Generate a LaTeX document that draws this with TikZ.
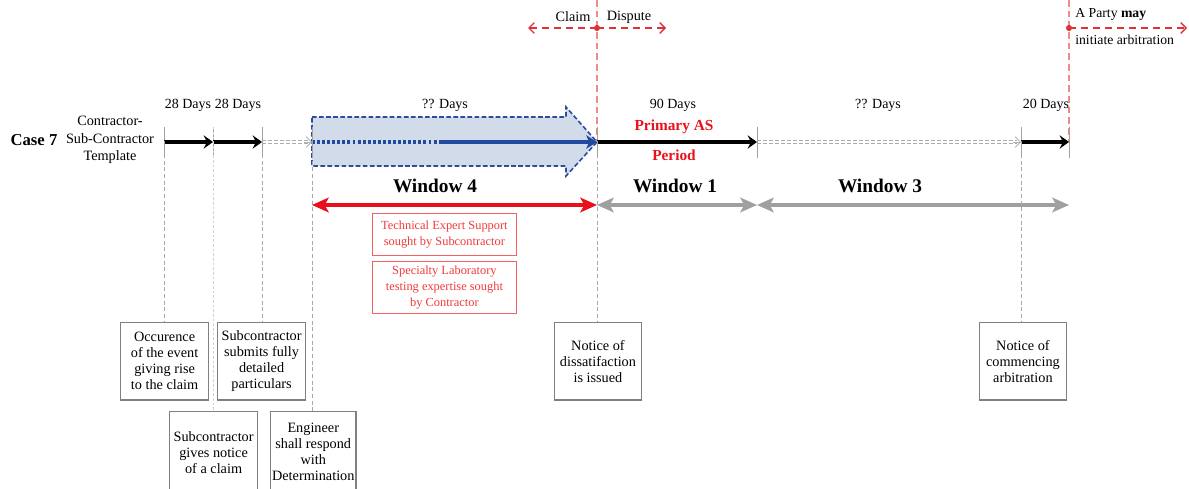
\documentclass[tikz,border=0pt]{standalone}
\usepackage{fontspec}
\setmainfont{Liberation Serif}
\usetikzlibrary{arrows.meta}
\definecolor{boxgrey}{HTML}{808080}
\definecolor{winred}{HTML}{E8101A}
\definecolor{pinkline}{HTML}{F08A8A}
\definecolor{claimred}{HTML}{E0303A}
\definecolor{blockfill}{HTML}{D2DBEA}
\definecolor{blockline}{HTML}{2E4C9A}
\definecolor{flowblue}{HTML}{1F4AA0}
\definecolor{wingrey}{HTML}{A0A0A0}
\definecolor{labred}{HTML}{F03A3A}
\begin{document}
\begin{tikzpicture}[x=0.75pt,y=-0.75pt,
  days/.style={font=\fontsize{10.5}{12}\selectfont, inner sep=0pt},
  winlabel/.style={font=\fontsize{14.5}{16}\selectfont\bfseries, inner sep=0pt},
  evbox/.style={draw=boxgrey, line width=0.9pt, align=center, anchor=north west,
    font=\fontsize{10.7}{12}\selectfont, inner sep=0pt},
  labbox/.style={draw=labred!80, line width=0.6pt, align=center, anchor=north west,
    text=labred, font=\fontsize{9.3}{12}\selectfont, inner sep=0pt,
    minimum width=108pt},
  tick/.style={draw=gray!75, line width=0.6pt},
  drop/.style={draw=gray!70, line width=0.6pt, dash pattern=on 3pt off 2pt},
  faintdrop/.style={draw=gray!35, line width=0.6pt, dash pattern=on 2pt off 1.5pt},
  period/.style={draw=black, line width=2.7pt, -{Stealth[length=7pt,width=10pt,inset=2.5pt]}},
  pending/.style={draw=gray!65, line width=0.6pt, dash pattern=on 3pt off 1.5pt},
  openhead/.style={draw=gray!60, line width=0.6pt,
    -{Straight Barb[length=4pt,width=8pt,line width=0.6pt]}},
  window/.style={line width=3pt, {Stealth[length=12.5pt,width=11pt,inset=3pt]}-{Stealth[length=12.5pt,width=11pt,inset=3pt]}},
  milestone/.style={draw=pinkline, line width=1pt, dash pattern=on 5pt off 3pt},
  redarrow/.style={draw=claimred, line width=1pt, dash pattern=on 5pt off 4pt,
    -{Straight Barb[length=4pt,width=8pt,line width=1pt]}}
]
\clip (0,0) rectangle (1189,489);

% time points on the main line
\coordinate (t0) at (164,142);
\coordinate (t1) at (213,142);
\coordinate (t2) at (262,142);
\coordinate (t3) at (312,142);
\coordinate (tb) at (440,142);
\coordinate (t4) at (597,142);
\coordinate (t5) at (757,142);
\coordinate (t6) at (1021,142);
\coordinate (t7) at (1069,142);

% milestone lines above the main line
\coordinate (claimtop) at (597,0);
\coordinate (arbtop) at (1069,0);
\draw[milestone] (claimtop) -- (t4);
\draw[milestone] (arbtop) -- (t7);

% claim / dispute split
\coordinate (cd) at (597,28);
\coordinate (cl) at (528,28);
\coordinate (dr) at (666,28);
\draw[redarrow] (cd) -- (cl);
\draw[redarrow] (cd) -- (dr);
\fill[claimred] (cd) circle (2.3pt);
\node[font=\fontsize{10.7}{12}\selectfont, inner sep=0pt] (claim) at (573,17) {Claim};
\node[font=\fontsize{10.7}{12}\selectfont, inner sep=0pt] (dispute) at (629,17) {Dispute};

% arbitration may be initiated
\coordinate (ap) at (1069,28);
\coordinate (ar) at (1187,28);
\draw[redarrow] (ap) -- (ar);
\fill[claimred] (ap) circle (2.3pt);
\node[anchor=west, font=\fontsize{10.3}{12}\selectfont, inner sep=0pt] (party) at (1075,14) {A Party \textbf{may}};
\node[anchor=west, font=\fontsize{10.3}{12}\selectfont, inner sep=0pt] (initiate) at (1075,40) {initiate arbitration};

% case heading
\node[font=\fontsize{12.5}{14}\selectfont\bfseries, inner sep=0pt] (case) at (34,140) {Case 7};
\node[align=center, font=\fontsize{10.7}{13}\selectfont, inner sep=0pt] (tmpl) at (110,140) {Contractor-\\Sub-Contractor\\Template};

% durations
\node[days] (d1) at (188,105) {28 Days};
\node[days] (d2) at (238,105) {28 Days};
\node[days] (d3) at (445,105) {?? Days};
\node[days] (d4) at (673,105) {90 Days};
\node[days] (d5) at (878,105) {?? Days};
\node[days] (d6) at (1046,105) {20 Days};

% block arrow of the open period
\draw[blockline, fill=blockfill, line width=1.2pt, dash pattern=on 3.5pt off 1.8pt]
  (312,117) -- (566,117) -- (566,107) -- (597,142) -- (566,176) -- (566,166) -- (312,166) -- cycle;
\draw[flowblue, line width=3pt, dash pattern=on 2.2pt off 1.6pt] (t3) -- (tb);
\draw[flowblue, line width=3pt, -{Stealth[length=8pt,width=10pt,inset=2pt]}] (tb) -- (t4);

% ticks
\foreach \t in {t0,t1,t2,t3,t4,t5,t6,t7}
  \draw[tick] ([yshift=-12]\t) -- ([yshift=11]\t);

% periods on the main line (open periods drawn as faint double dashes)
\draw[period] (t0) -- (t1);
\draw[period] (t1) -- (t2);
\draw[pending] ([yshift=1.3]t2) -- ([xshift=-3,yshift=1.3]t3);
\draw[pending] ([yshift=-1.3]t2) -- ([xshift=-3,yshift=-1.3]t3);
\draw[openhead] ([xshift=-6]t3) -- (t3);
\draw[period] (t4) -- (t5);
\draw[pending] ([yshift=1.3]t5) -- ([xshift=-3,yshift=1.3]t6);
\draw[pending] ([yshift=-1.3]t5) -- ([xshift=-3,yshift=-1.3]t6);
\draw[openhead] ([xshift=-6]t6) -- (t6);
\draw[period] (t6) -- (t7);

\node[font=\fontsize{11.5}{13}\selectfont\bfseries, text=winred, inner sep=0pt] (pas) at (674,127) {Primary AS};
\node[font=\fontsize{11.5}{13}\selectfont\bfseries, text=winred, inner sep=0pt] (pper) at (674,155) {Period};

% windows
\coordinate (w0) at (312,205);
\coordinate (w1) at (597,205);
\coordinate (w2) at (757,205);
\coordinate (w3) at (1069,205);
\draw[window, draw=winred, color=winred] (w0) -- (w1);
\draw[window, draw=wingrey, color=wingrey] (w1) -- (w2);
\draw[window, draw=wingrey, color=wingrey] (w2) -- (w3);
\node[winlabel] (win4) at (435,186) {Window 4};
\node[winlabel] (win1) at (675,186) {Window 1};
\node[winlabel] (win3) at (880,186) {Window 3};

% expert support notes
\node[labbox, minimum height=31.5pt] (tech) at (372,213) {Technical Expert Support\\sought by Subcontractor};
\node[labbox, minimum height=39pt] (spec) at (372,261) {Specialty Laboratory\\testing expertise sought\\by Contractor};

% event boxes
\node[evbox, minimum width=66pt, minimum height=58pt] (ev1) at (120,322) {Occurence\\of the event\\giving rise\\to the claim};
\node[evbox, minimum width=66pt, minimum height=58pt] (ev2) at (217,322) {Subcontractor\\submits fully\\detailed\\particulars};
\node[evbox, minimum width=66pt, minimum height=62pt] (ev3) at (169,411) {Subcontractor\\gives notice\\of a claim};
\node[evbox, minimum width=64pt, minimum height=60pt] (ev4) at (270,411) {Engineer\\shall respond\\with\\Determination};
\node[evbox, minimum width=65pt, minimum height=58pt] (ev5) at (554,322) {Notice of\\dissatifaction\\is issued};
\node[evbox, minimum width=65pt, minimum height=58pt] (ev6) at (979,322) {Notice of\\commencing\\arbitration};

% drop lines from time points to events
\draw[drop] ([yshift=11]t0) -- (ev1.north -| t0);
\draw[faintdrop] ([yshift=11]t1) -- (ev3.north -| t1);
\draw[drop] ([yshift=11]t2) -- (ev2.north -| t2);
\draw[drop] ([yshift=11]t3) -- (ev4.north -| t3);
\draw[drop] ([yshift=11]t4) -- (ev5.north -| t4);
\draw[drop] ([yshift=11]t6) -- (ev6.north -| t6);
\end{tikzpicture}
\end{document}
